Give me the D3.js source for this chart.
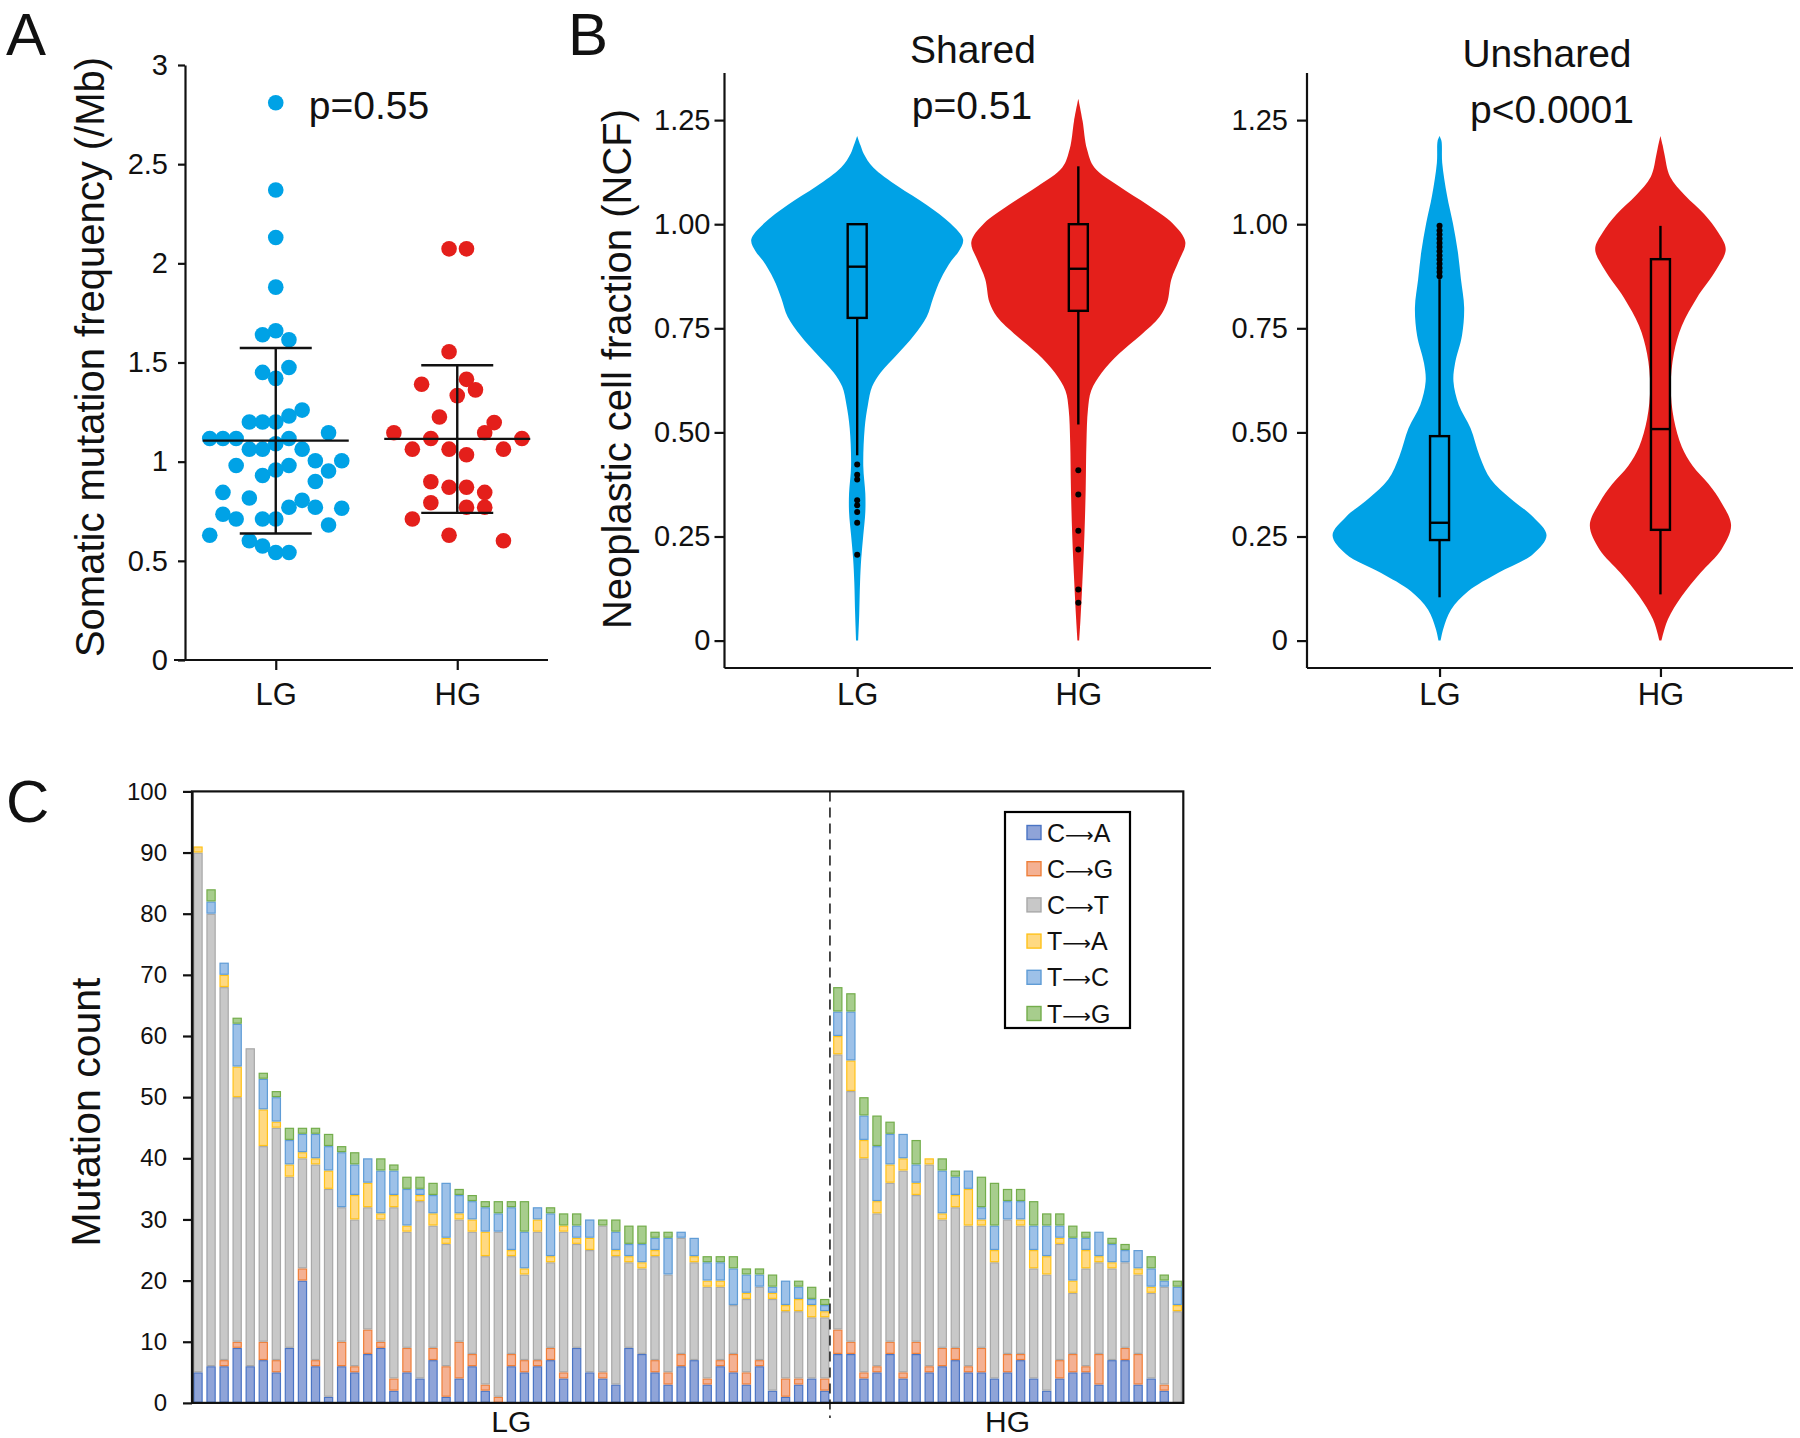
<!DOCTYPE html>
<html><head><meta charset="utf-8">
<script src="https://cdn.jsdelivr.net/npm/d3@7"></script>
<style>
body{margin:0;background:#fff}
svg{display:block}
</style>
</head><body>
<svg id="chart" width="1800" height="1438"></svg>
<script>
// ---------------- DATA ----------------
const groups = ["LG", "HG"];

// Panel A: somatic mutation frequency (/Mb) per sample, with dot-plot lane offsets
const freqLG = [2.81,2.37,2.13,1.88,1.64,1.66,1.615,1.45,1.475,1.42,1.20,1.20,1.20,1.23,1.26,1.117,1.117,1.117,1.117,1.146,1.063,1.063,1.09,1.063,0.981,0.981,1.005,1.005,0.93,0.958,0.90,0.953,0.845,0.817,0.805,0.77,0.77,0.765,0.735,0.711,0.711,0.711,0.681,0.629,0.601,0.575,0.542,0.542];
const laneLG = [0,0,0,0,-1,0,1,-1,1,0,-2,-1,0,1,2,-5,-4,-3,1,4,-2,-1,0,2,-3,1,3,5,-1,0,3,4,-4,-2,2,1,3,5,-4,-3,-1,0,4,-5,-2,-1,0,1];
const freqHG = [2.073,2.073,1.554,1.39,1.415,1.362,1.333,1.225,1.197,1.146,1.117,1.146,1.117,1.063,1.063,1.063,1.035,0.899,0.871,0.871,0.845,0.793,0.77,0.77,0.711,0.629,0.601];
const laneHG = [-0.62,0.7,-0.62,-2.7,0.7,1.38,0,-1.35,2.8,-4.8,-2,2.08,4.9,-3.4,-0.62,3.5,0.7,-2,-0.62,0.7,2.08,-2,0.7,2.08,-3.4,-0.62,3.5];
const meanA = [1.106, 1.115];
const sdLowA = [0.638, 0.742];
const sdHighA = [1.573, 1.486];
const ticksA = [0,0.5,1,1.5,2,2.5,3];
const pA = "p=0.55";

// Panel B: violin density outlines [NCF value, relative half-width]
const sharedLGProfile = [[0,0.01],[0.063,0.019],[0.141,0.027],[0.197,0.038],[0.253,0.057],[0.309,0.076],[0.353,0.076],[0.42,0.057],[0.51,0.07],[0.566,0.1],[0.61,0.14],[0.644,0.22],[0.689,0.38],[0.733,0.53],[0.778,0.65],[0.823,0.71],[0.868,0.78],[0.912,0.88],[0.935,0.95],[0.963,0.99],[1.002,0.87],[1.046,0.65],[1.091,0.38],[1.136,0.15],[1.17,0.06],[1.19,0.03],[1.212,0]];
const sharedHGProfile = [[0,0.008],[0.05,0.02],[0.141,0.038],[0.253,0.057],[0.364,0.069],[0.476,0.076],[0.555,0.09],[0.6,0.12],[0.644,0.22],[0.689,0.38],[0.733,0.58],[0.778,0.76],[0.812,0.83],[0.868,0.87],[0.912,0.94],[0.957,1.0],[1.002,0.88],[1.046,0.65],[1.091,0.38],[1.136,0.15],[1.181,0.08],[1.248,0.04],[1.301,0]];
const unsharedLGProfile = [[0,0.01],[0.029,0.036],[0.074,0.107],[0.119,0.27],[0.163,0.55],[0.208,0.875],[0.253,1.0],[0.297,0.875],[0.342,0.66],[0.387,0.48],[0.443,0.375],[0.51,0.29],[0.566,0.18],[0.622,0.13],[0.666,0.145],[0.733,0.21],[0.8,0.23],[0.868,0.2],[0.935,0.17],[1.002,0.125],[1.069,0.07],[1.147,0.025],[1.2,0.018],[1.212,0]];
const unsharedHGProfile = [[0,0.01],[0.051,0.07],[0.107,0.2],[0.163,0.375],[0.219,0.57],[0.277,0.66],[0.331,0.57],[0.376,0.45],[0.42,0.3],[0.465,0.2],[0.532,0.125],[0.61,0.096],[0.689,0.125],[0.756,0.2],[0.823,0.34],[0.89,0.52],[0.94,0.61],[0.98,0.54],[1.024,0.41],[1.069,0.23],[1.114,0.09],[1.17,0.036],[1.19,0.02],[1.212,0]];
// Box statistics: [whiskerLow, q1, median, q3, whiskerHigh]
const sharedBoxLG = [0.445, 0.775, 0.898, 1.0, 1.0];
const sharedBoxHG = [0.519, 0.792, 0.893, 1.0, 1.139];
const unsharedBoxLG = [0.104, 0.2415, 0.283, 0.491, 0.868];
const unsharedBoxHG = [0.111, 0.266, 0.508, 0.916, 0.996];
const sharedOutLG = [0.423,0.398,0.387,0.337,0.325,0.309,0.283,0.206];
const sharedOutHG = [0.409,0.351,0.264,0.219,0.123,0.091];
const unsharedOutLG = [0.875,0.885,0.895,0.905,0.915,0.925,0.935,0.945,0.955,0.965,0.975,0.985,0.996];
const unsharedOutHG = [];
const ticksB = [0,0.25,0.5,0.75,1.0,1.25];
const tickLabelsB = ["0","0.25","0.50","0.75","1.00","1.25"];

// Panel C: mutation counts per sample (49 LG then 27 HG)
const nLG = 49, nHG = 27;
const mutTypes = ["C→A","C→G","C→T","T→A","T→C","T→G"];
const mutCA = [5,6,6,9,6,7,5,9,20,6, 1,6,5,8,9,2,5,4,7,1, 4,6,2,0,6,5,6,7,4,9, 5,4,3,9,8,5,3,6,7,3, 6,5,3,6,2,1,3,4,2,
               8,8,4,5,8,4,8,5,6,7, 5,5,4,5,7,4,2,4,5,5, 3,7,7,3,4,2,0];
const mutCG = [0,0,1,1,0,3,2,0,2,1, 0,4,1,4,1,2,4,0,2,5, 6,2,1,1,2,2,1,2,1,0, 0,1,0,0,0,2,2,2,0,1, 1,3,2,1,0,3,1,0,2,
               4,2,1,1,2,1,2,1,3,2, 1,4,0,3,1,0,0,3,3,1, 5,0,2,5,0,1,0];
const mutCT = [85,74,61,40,52,32,38,28,18,32, 34,22,24,20,20,28,19,29,20,20, 20,20,21,27,16,14,21,14,23,17, 20,24,21,14,14,17,16,19,16,15, 12,8,12,12,15,11,11,10,10,
               45,41,35,25,26,33,24,33,21,23, 23,20,19,22,21,18,19,19,10,16, 15,15,14,13,14,16,15];
const mutTA = [1,0,2,5,0,6,1,2,1,1, 3,0,4,4,1,2,1,1,2,1, 1,2,4,0,1,1,2,1,1,1, 2,0,1,1,1,1,0,0,1,1, 1,0,1,0,1,1,2,2,1,
               3,5,3,2,3,2,2,1,1,2, 6,1,2,0,1,3,3,1,2,3, 1,1,0,1,1,0,1];
const mutTC = [0,2,2,7,0,5,4,4,3,4, 4,9,5,4,7,4,6,1,3,9, 3,3,4,3,7,6,2,7,0,2, 3,0,3,2,3,2,6,1,3,3, 3,6,3,2,1,4,2,1,1,
               4,8,4,9,5,4,3,0,7,3, 3,2,4,3,3,4,5,2,7,2, 4,3,2,3,3,1,3];
const mutTG = [0,2,0,1,0,1,1,2,1,1, 2,1,2,0,2,1,2,2,2,0, 1,1,1,2,1,5,0,1,2,2, 0,1,2,3,3,1,1,0,0,1, 1,2,1,1,2,0,1,2,1,
               4,3,3,5,2,0,4,0,2,1, 0,5,7,2,2,4,2,2,2,1, 0,1,1,0,2,1,1];
const ticksC = [0,10,20,30,40,50,60,70,80,90,100];

// ---------------- STYLE ----------------
const FONT = "'Liberation Sans', Arial, Helvetica, sans-serif";
const INK = "#111";
const colLG = "#00a2e6", colHG = "#e41f1b";
const mutFill = ["#8fa4d8","#f4b193","#c8c8c8","#ffd982","#9dc1e8","#a7cd8d"];
const mutStroke = ["#4a74c4","#ee7f3a","#a8a8a8","#ffc21a","#5f9cd6","#73ad4b"];

const svg = d3.select("#chart");
svg.append("rect").attr("width",1800).attr("height",1438).attr("fill","#fff");

function txt(g, x, y, s, size, anchor) {
  return g.append("text").attr("x", x).attr("y", y).text(s)
    .attr("font-family", FONT).attr("font-size", size)
    .attr("text-anchor", anchor || "middle").attr("fill", INK);
}
function vtxt(g, x, y, s, size) {
  return g.append("text").attr("transform", `translate(${x},${y}) rotate(-90)`)
    .text(s).attr("font-family", FONT).attr("font-size", size)
    .attr("text-anchor", "middle").attr("fill", INK);
}
function styleAxis(g, size, sw) {
  g.attr("font-family", FONT).attr("font-size", size);
  g.selectAll("path,line").attr("stroke", INK).attr("stroke-width", sw);
  g.selectAll("text").attr("fill", INK);
}

// panel letters
txt(svg, 6, 55, "A", 60, "start");
txt(svg, 568, 55, "B", 60, "start");
txt(svg, 6, 822, "C", 60, "start");

// ---------------- PANEL A ----------------
{
  const g = svg.append("g");
  const y = d3.scaleLinear().domain([0, 3]).range([660, 65]);
  const x = d3.scalePoint().domain(groups).range([185, 548]).padding(0.5);
  const LANE = 13.2, R = 7.8;

  const ya = g.append("g").attr("transform", "translate(185,0)")
    .call(d3.axisLeft(y).tickValues(ticksA).tickFormat(d => String(d)).tickSize(7).tickSizeOuter(0).tickPadding(10));
  styleAxis(ya, 29, 2.2);
  const xa = g.append("g").attr("transform", "translate(0,660)")
    .call(d3.axisBottom(x).tickSize(10).tickSizeOuter(0).tickPadding(13));
  styleAxis(xa, 31, 2.2);
  xa.select(".domain").attr("d", "M174,0H548");

  vtxt(g, 104, 357, "Somatic mutation frequency (/Mb)", 40);

  g.append("g").selectAll("circle").data(d3.zip(freqLG, laneLG)).join("circle")
    .attr("cx", d => x("LG") + d[1] * LANE).attr("cy", d => y(d[0])).attr("r", R).attr("fill", colLG);
  g.append("g").selectAll("circle").data(d3.zip(freqHG, laneHG)).join("circle")
    .attr("cx", d => x("HG") + d[1] * LANE).attr("cy", d => y(d[0])).attr("r", R).attr("fill", colHG);

  groups.forEach((grp, i) => {
    const cx = x(grp);
    const ln = (x1, y1, x2, y2) => g.append("line").attr("x1", x1).attr("y1", y1).attr("x2", x2).attr("y2", y2)
      .attr("stroke", INK).attr("stroke-width", 2.4);
    ln(cx - 73, y(meanA[i]), cx + 73, y(meanA[i]));
    ln(cx, y(sdLowA[i]), cx, y(sdHighA[i]));
    ln(cx - 36, y(sdLowA[i]), cx + 36, y(sdLowA[i]));
    ln(cx - 36, y(sdHighA[i]), cx + 36, y(sdHighA[i]));
  });

  txt(g, 369, 119, pA, 39);
}

// ---------------- PANEL B ----------------
function violinPanel(opt) {
  const g = svg.append("g");
  const y = d3.scaleLinear().domain([0, 1.25]).range([640.6, 120.1]);
  const x = d3.scalePoint().domain(groups).range([opt.x0, opt.x1]).padding(0.6);
  const MAXHW = 107;

  const ya = g.append("g").attr("transform", `translate(${opt.x0},0)`)
    .call(d3.axisLeft(y).tickValues(ticksB).tickFormat((d, i) => tickLabelsB[i]).tickSize(10).tickSizeOuter(0).tickPadding(opt.pad));
  styleAxis(ya, 29, 2.2);
  ya.select(".domain").attr("d", "M0,73V668");
  const xa = g.append("g").attr("transform", "translate(0,668)")
    .call(d3.axisBottom(x).tickSize(9).tickSizeOuter(0).tickPadding(6));
  styleAxis(xa, 31, 2.2);
  xa.select(".domain").attr("d", `M${opt.x0},0H${opt.x1}`);

  const cols = [colLG, colHG];
  groups.forEach((grp, i) => {
    const cx = x(grp);
    const area = d3.area()
      .y(d => y(d[0]))
      .x0(d => cx - d[1] * MAXHW)
      .x1(d => cx + d[1] * MAXHW)
      .curve(d3.curveCatmullRom.alpha(0.5));
    g.append("path").attr("d", area(opt.profiles[i])).attr("fill", cols[i]);

    const b = opt.boxes[i];
    const hw = 9.5;
    const ln = (x1, y1, x2, y2) => g.append("line").attr("x1", x1).attr("y1", y1).attr("x2", x2).attr("y2", y2)
      .attr("stroke", "#000").attr("stroke-width", 2.4);
    ln(cx, y(b[3]), cx, y(b[4]));
    ln(cx, y(b[1]), cx, y(b[0]));
    g.append("rect").attr("x", cx - hw).attr("width", 2 * hw)
      .attr("y", y(b[3])).attr("height", y(b[1]) - y(b[3]))
      .attr("fill", "none").attr("stroke", "#000").attr("stroke-width", 2.4);
    ln(cx - hw, y(b[2]), cx + hw, y(b[2]));
    g.append("g").selectAll("circle").data(opt.outliers[i]).join("circle")
      .attr("cx", cx).attr("cy", d => y(d)).attr("r", 3).attr("fill", "#000");
  });

  txt(g, opt.tx, opt.ty, opt.title, 39);
  txt(g, opt.px, opt.py, opt.p, 39);
}

violinPanel({x0: 724.5, x1: 1211, pad: 4, title: "Shared", tx: 973, ty: 63, p: "p=0.51", px: 972, py: 119,
  profiles: [sharedLGProfile, sharedHGProfile], boxes: [sharedBoxLG, sharedBoxHG], outliers: [sharedOutLG, sharedOutHG]});
violinPanel({x0: 1307, x1: 1793, pad: 9, title: "Unshared", tx: 1547, ty: 67, p: "p<0.0001", px: 1552, py: 123,
  profiles: [unsharedLGProfile, unsharedHGProfile], boxes: [unsharedBoxLG, unsharedBoxHG], outliers: [unsharedOutLG, unsharedOutHG]});
vtxt(svg, 631, 369, "Neoplastic cell fraction (NCF)", 40);

// ---------------- PANEL C ----------------
{
  const g = svg.append("g");
  const L = 192, R = 1183.3, T = 791.4, B = 1402.9;
  const n = nLG + nHG;
  const samples = d3.range(n).map(i => ({
    id: i, group: i < nLG ? "LG" : "HG",
    "C→A": mutCA[i], "C→G": mutCG[i], "C→T": mutCT[i], "T→A": mutTA[i], "T→C": mutTC[i], "T→G": mutTG[i]
  }));
  const x = d3.scaleBand().domain(d3.range(n)).range([L, R]).paddingInner(0.28).paddingOuter(0.1);
  const y = d3.scaleLinear().domain([0, 100]).range([B, T]);
  const stack = d3.stack().keys(mutTypes)(samples);

  stack.forEach((layer, k) => {
    g.append("g").selectAll("rect").data(layer).join("rect")
      .attr("x", d => x(d.data.id) + 0.6).attr("width", x.bandwidth() - 1.2)
      .attr("y", d => y(d[1]) + 0.6)
      .attr("height", d => Math.max(0, y(d[0]) - y(d[1]) - 1.2))
      .attr("fill", mutFill[k]).attr("stroke", mutStroke[k]).attr("stroke-width", 1.2)
      .attr("display", d => (d[1] - d[0]) > 0 ? null : "none");
  });

  // frame
  g.append("rect").attr("x", L).attr("y", T).attr("width", R - L).attr("height", B - T)
    .attr("fill", "none").attr("stroke", INK).attr("stroke-width", 2.2);

  const ya = g.append("g").attr("transform", `translate(${L},0)`)
    .call(d3.axisLeft(y).tickValues(ticksC).tickSize(9).tickSizeOuter(0).tickPadding(16));
  styleAxis(ya, 24, 2.2);

  // group divider
  const xd = x(nLG - 1) + x.bandwidth() + 0.5;
  g.append("line").attr("x1", xd).attr("x2", xd).attr("y1", T).attr("y2", B + 15)
    .attr("stroke", INK).attr("stroke-width", 1.5).attr("stroke-dasharray", "10,6");

  const cLG = (x(0) + x(nLG - 1) + x.bandwidth()) / 2;
  const cHG = (x(nLG) + x(n - 1) + x.bandwidth()) / 2;
  txt(g, cLG, 1432, "LG", 30);
  txt(g, cHG, 1432, "HG", 30);

  vtxt(g, 100, 1112, "Mutation count", 41);

  // legend
  const lg = g.append("g");
  lg.append("rect").attr("x", 1005).attr("y", 812).attr("width", 125).attr("height", 216)
    .attr("fill", "#fff").attr("stroke", "#000").attr("stroke-width", 2.2);
  mutTypes.forEach((m, k) => {
    const cy = 832.5 + k * 36.2;
    lg.append("rect").attr("x", 1027).attr("y", cy - 7).attr("width", 14).attr("height", 14)
      .attr("fill", mutFill[k]).attr("stroke", mutStroke[k]).attr("stroke-width", 1.4);
    const [a, b] = m.split("→");
    const t = txt(lg, 1047, cy, "", 25, "start").attr("dy", "0.36em");
    t.append("tspan").text(a);
    t.append("tspan").text("⟶").attr("font-family", "'DejaVu Sans', sans-serif").attr("font-size", 20);
    t.append("tspan").text(b);
  });
}
</script>
</body></html>
